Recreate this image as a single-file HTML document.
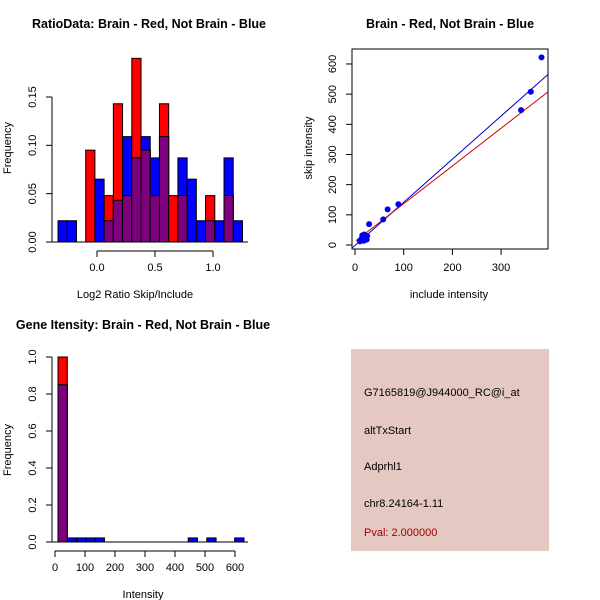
<!DOCTYPE html>
<html><head><meta charset="utf-8"><style>
body{margin:0;background:#fff}
svg{display:block;font-family:"Liberation Sans",sans-serif}
</style></head><body>
<svg id="c" width="600" height="600"></svg>
<script>
// ---- Panel 1 data: log2 ratio histogram
const ratioRed  = [0,0,0,0.095,0,0.048,0.143,0.048,0.19,0.095,0.048,0.143,0.048,0.048,0,0,0.048,0,0.048,0];
const ratioBlue = [0.022,0.022,0,0,0.065,0.022,0.043,0.109,0.087,0.109,0.087,0.109,0,0.087,0.065,0.022,0.022,0.022,0.087,0.022];
const ratioBreakStart = -0.336, ratioBinWidth = 0.0795;
const ratioYTicks = [0,0.05,0.10,0.15];
const ratioYLabels = ["0.00","0.05","0.10","0.15"];
const ratioXTicks = [0,0.5,1.0];
const ratioXLabels = ["0.0","0.5","1.0"];
// ---- Panel 2 data: scatter
const scatterX = [29,58,67,89,341,361,383,10,12,14,15,16,17,18,19,20,21,22,23,24,25,13,15,18];
const scatterY = [69,85,118,135,447,508,622,12,18,22,25,28,20,30,35,24,26,22,27,18,30,15,32,14];
const blueFit = [-1.5,1.43];
const redFit = [12,1.25];
const scatXTicks=[0,100,200,300], scatYTicks=[0,100,200,300,400,500,600];
// ---- Panel 3 data: intensity histogram
const intRed  = [1.0,0,0,0,0,0,0,0,0,0,0,0,0,0,0,0,0,0,0,0];
const intBlue = [0.85,0.022,0.022,0.022,0.022,0,0,0,0,0,0,0,0,0,0.022,0,0.022,0,0,0.022];
const intBreakStart = 10, intBinWidth = 31;
const intYTicks=[0,0.2,0.4,0.6,0.8,1.0], intYLabels=["0.0","0.2","0.4","0.6","0.8","1.0"];
const intXTicks=[0,100,200,300,400,500,600];

const NS="http://www.w3.org/2000/svg", svg=document.getElementById('c');
function el(t,a,p){const e=document.createElementNS(NS,t);for(const k in a)e.setAttribute(k,a[k]);(p||svg).appendChild(e);return e;}
function txt(x,y,s,opt){opt=opt||{};const e=el('text',{x:x,y:y,'font-size':opt.size||11,'text-anchor':opt.anchor||'middle',fill:opt.fill||'#000','font-weight':opt.bold?'bold':'normal'});if(opt.rot)e.setAttribute('transform','rotate(-90 '+x+' '+y+')');e.textContent=s;return e;}

function hist(red,blue,start,w,xs,ys,name){
  for(let i=0;i<red.length;i++){
    const x0=xs(start+i*w),x1=xs(start+(i+1)*w);
    const r=red[i],b=blue[i],m=Math.min(r,b);
    if(r>0){const e=el('rect',{x:x0,y:ys(r),width:x1-x0,height:ys(0)-ys(r),fill:'#ff0000',stroke:'#000','stroke-width':1});
      
      }
    if(b>0){const e=el('rect',{x:x0,y:ys(b),width:x1-x0,height:ys(0)-ys(b),fill:'#0000ff',stroke:'#000','stroke-width':1});
      
      }
    if(m>0){const e=el('rect',{x:x0,y:ys(m),width:x1-x0,height:ys(0)-ys(m),fill:'#7f007f',stroke:'#000','stroke-width':1});
      
      }
  }
}
function yaxis(x,ticks,labels,ys){
  el('line',{x1:x,y1:ys(ticks[0]),x2:x,y2:ys(ticks[ticks.length-1]),stroke:'#000'});
  ticks.forEach((t,i)=>{el('line',{x1:x,y1:ys(t),x2:x-6,y2:ys(t),stroke:'#000'});txt(x-16,ys(t),labels[i],{rot:true});});
}
function xaxis(y,ticks,labels,xs){
  el('line',{x1:xs(ticks[0]),y1:y,x2:xs(ticks[ticks.length-1]),y2:y,stroke:'#000'});
  ticks.forEach((t,i)=>{el('line',{x1:xs(t),y1:y,x2:xs(t),y2:y+6,stroke:'#000'});txt(xs(t),y+20,labels[i]);});
}

// Panel 1
{const xs=v=>97+v*116, ys=v=>242-v*966.7;
 hist(ratioRed,ratioBlue,ratioBreakStart,ratioBinWidth,xs,ys,'ratio');
 el('line',{x1:52,y1:242,x2:248,y2:242,stroke:'#000'});
 yaxis(52,ratioYTicks,ratioYLabels,ys);
 xaxis(251,ratioXTicks,ratioXLabels,xs);
 txt(149,28,"RatioData: Brain - Red, Not Brain - Blue",{bold:true,size:12.5});
 txt(135,298,"Log2 Ratio Skip/Include");
 txt(11,148,"Frequency",{rot:true});
}
// Panel 2
{const xs=v=>355+v*0.487, ys=v=>245-v*0.3017;
 el('rect',{x:352,y:49,width:196,height:200,fill:'none',stroke:'#000'});
 const cp=el('clipPath',{id:'cp'});el('rect',{x:352,y:49,width:196,height:200},cp);
 const g=el('g',{'clip-path':'url(#cp)'});
 el('line',{x1:xs(-10),y1:ys(blueFit[0]+blueFit[1]*-10),x2:xs(400),y2:ys(blueFit[0]+blueFit[1]*400),stroke:'#0000cc'},g);
 el('line',{x1:xs(2),y1:ys(redFit[0]+redFit[1]*2),x2:xs(400),y2:ys(redFit[0]+redFit[1]*400),stroke:'#cc0000'},g);
 scatterX.forEach((x,i)=>{const p=el('circle',{cx:xs(x),cy:ys(scatterY[i]),r:3,fill:'#0000ee'});
   
   });
 scatYTicks.forEach(t=>{el('line',{x1:352,y1:ys(t),x2:346,y2:ys(t),stroke:'#000'});txt(336,ys(t),String(t),{rot:true});});
 scatXTicks.forEach(t=>{el('line',{x1:xs(t),y1:249,x2:xs(t),y2:255,stroke:'#000'});txt(xs(t),271,String(t));});
 txt(450,28,"Brain - Red, Not Brain - Blue",{bold:true,size:12.5});
 txt(449,298,"include intensity");
 txt(312,148,"skip intensity",{rot:true});
}
// Panel 3
{const xs=v=>55+v*0.3, ys=v=>542-v*185;
 hist(intRed,intBlue,intBreakStart,intBinWidth,xs,ys,'intensity');
 el('line',{x1:52,y1:542,x2:248,y2:542,stroke:'#000'});
 yaxis(52,intYTicks,intYLabels,ys);
 xaxis(551,intXTicks,intXTicks.map(String),xs);
 txt(143,329,"Gene Itensity: Brain - Red, Not Brain - Blue",{bold:true,size:12.5});
 txt(143,598,"Intensity");
 txt(11,450,"Frequency",{rot:true});
}
// Panel 4
{el('rect',{x:351,y:349,width:198,height:202,fill:'#e5c8c2'});
 const lines=["G7165819@J944000_RC@i_at","altTxStart","Adprhl1","chr8.24164-1.11"],ys=[396,434,470,507];
 lines.forEach((s,i)=>{const t=txt(364,ys[i],s,{anchor:'start'});});
 txt(364,536,"Pval: 2.000000",{anchor:'start',fill:'#a00000'});
}
</script>
</body></html>
